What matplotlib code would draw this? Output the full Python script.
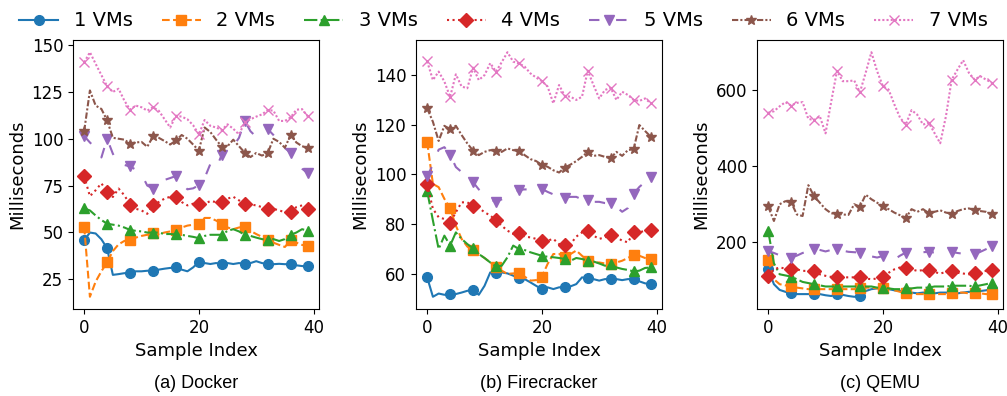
import matplotlib
matplotlib.use("Agg")
import matplotlib.pyplot as plt
import numpy as np

labels = ["1 VMs", "2 VMs", "3 VMs", "4 VMs", "5 VMs", "6 VMs", "7 VMs"]
panel_titles = ["(a) Docker", "(b) Firecracker", "(c) QEMU"]

# Docker
d1 = [45.8,49.9,49.4,46.3,41.5,27.3,27.7,28.2,28.2,29.2,29.2,29.5,29.5,30.1,30.6,31.0,31.3,30.1,29.2,31.3,
      34.2,33.6,33.1,33.6,33.1,33.6,33.1,33.6,33.1,33.6,34.6,33.6,33.1,33.0,33.2,33.0,33.1,32.4,32.0,31.9]
d2 = [53.0,15.6,23.7,29.2,34.0,40.0,43.6,45.4,46.0,47.2,48.1,48.7,49.7,49.1,49.9,50.5,51.0,52.6,53.6,54.1,
      54.7,57.7,57.7,56.3,54.7,52.6,51.7,52.6,53.0,50.8,49.1,47.6,45.8,44.5,43.3,42.2,45.8,44.5,43.3,42.7]
d3 = [62.8,61.7,59.0,56.6,54.6,54.1,53.6,52.6,51.3,50.8,50.5,49.9,49.9,49.9,49.1,49.1,48.9,48.7,48.1,47.6,
      46.9,48.1,48.7,48.7,48.7,50.8,51.7,50.5,48.7,48.1,47.2,46.4,45.8,46.4,45.4,46.4,48.7,49.9,51.7,50.8]
d4 = [80.0,69.3,72.5,76.2,71.6,68.9,73.4,69.8,64.8,62.6,61.7,59.9,64.6,66.2,68.0,69.0,69.1,66.2,64.4,65.3,
      65.1,65.3,66.7,66.2,66.0,68.0,69.0,67.1,65.1,64.9,64.4,63.5,62.6,62.6,61.7,60.8,60.8,63.5,64.4,62.6]
d5 = [101.4,98.0,95.0,90.0,100.0,92.0,86.5,86.0,85.2,83.5,81.0,75.0,73.4,76.0,78.0,79.0,80.1,76.0,73.0,73.5,
      75.2,79.0,86.5,84.0,91.5,93.0,96.0,100.5,109.5,104.0,101.0,102.3,105.2,102.0,98.0,95.0,92.5,88.0,84.0,81.5]
d6 = [104.1,125.8,117.7,115.9,109.8,100.5,100.0,99.5,97.4,98.0,98.3,95.7,101.2,100.5,98.8,96.9,99.1,102.0,100.0,96.9,
      93.7,106.0,103.6,99.5,95.7,96.0,99.5,96.0,92.6,90.2,92.4,91.0,92.3,100.0,98.3,95.2,102.0,98.0,96.0,95.1]
d7 = [140.8,146.2,140.0,134.0,128.0,125.0,126.7,120.4,115.5,117.7,116.8,115.0,116.8,115.0,110.5,106.0,112.3,111.8,110.4,107.2,
      102.3,110.0,106.9,106.0,104.7,107.7,105.3,102.3,108.7,110.4,111.8,113.0,115.3,115.0,109.5,109.5,111.4,115.5,115.8,111.9]

# Firecracker
f1 = [58.6,50.8,52.1,51.6,51.9,51.9,52.5,53.2,53.5,51.6,55.2,60.6,60.2,60.6,60.2,59.3,58.3,57.9,56.6,55.2,
      53.9,54.6,53.9,54.6,54.6,55.0,55.9,58.6,58.3,57.9,57.3,57.9,57.9,57.9,57.5,57.9,57.9,57.0,56.2,55.9]
f2 = [113.0,96.2,94.9,90.2,86.4,79.4,74.1,71.0,69.5,68.0,66.4,64.6,62.8,61.3,60.0,60.2,60.2,58.9,57.3,57.5,
      58.9,64.0,68.0,68.0,67.0,68.0,69.4,67.3,65.3,64.6,64.6,64.2,63.8,64.6,65.3,66.4,67.7,67.3,66.4,66.0]
f3 = [93.3,81.5,70.0,75.4,71.4,76.7,74.1,72.0,70.3,68.0,66.4,64.6,63.0,63.3,66.7,71.4,70.0,69.6,68.7,68.0,
      67.3,66.9,66.7,66.4,66.0,65.3,66.4,66.0,65.3,65.0,64.2,63.3,63.8,62.6,62.0,61.6,61.0,61.3,62.4,62.6]
f4 = [96.0,86.2,82.8,82.1,80.6,84.8,88.8,88.8,87.4,86.6,84.8,83.5,81.5,79.4,77.4,76.1,76.3,75.0,74.7,74.1,
      73.1,73.4,74.1,72.0,71.8,72.0,75.0,76.7,77.4,75.4,74.1,74.7,75.8,74.7,73.4,72.7,76.7,76.7,77.4,77.7]
f5 = [99.2,104.0,110.0,111.0,108.0,103.0,101.0,99.0,96.9,94.0,92.0,90.0,89.0,90.0,91.0,92.0,93.8,94.0,94.0,94.0,
      94.2,93.0,92.0,91.0,90.7,91.0,91.0,90.0,89.6,89.0,89.0,88.5,88.4,87.0,85.0,86.5,92.3,95.0,97.0,98.9]
f6 = [126.6,121.2,113.5,119.6,118.2,119.6,115.9,112.5,109.6,107.8,109.1,109.8,109.4,109.1,110.5,109.8,109.4,107.8,106.2,105.4,
      103.9,103.1,101.7,100.8,102.8,104.0,105.4,107.1,109.1,107.5,107.8,107.1,106.6,109.1,107.5,109.8,110.2,119.9,117.5,115.2]
f7 = [145.5,138.0,141.4,137.4,131.2,140.3,135.4,134.7,143.0,138.0,140.0,144.8,141.4,145.2,149.2,145.4,144.7,143.4,140.7,139.0,
      137.6,135.4,128.6,136.0,131.6,131.3,130.0,131.3,141.8,136.0,130.6,134.0,134.9,130.0,133.3,132.0,130.0,129.6,130.6,128.6]

# QEMU
q1 = [129,90,75,70,67,64,64,64,64,64,61,59,65,62,59,57,58,72,77,79,
      79,77,74,72,70,68,66,68,66,66,68,68,68,66,68,70,70,72,74,78]
q2 = [154,103,90,87,84,81,79,77,78,77,77,77,77,77,77,77,79,81,81,79,
      81,79,74,70,68,66,64,64,64,64,64,64,66,68,68,66,68,66,64,64]
q3 = [230,145,116,113,110,103,96,93,90,87,84,84,84,84,84,84,84,84,84,81,
      81,79,77,77,79,79,81,81,81,84,84,84,86,86,86,86,84,87,90,94]
q4 = [112,129,134,131,131,129,125,125,125,116,112,109,109,108,108,108,108,105,103,105,
      108,120,129,134,133,129,125,127,126,122,118,122,125,120,118,116,120,122,125,126]
q5 = [177,172,166,162,160,165,172,176,183,180,176,180,183,178,175,174,173,168,163,160,
      164,158,155,165,173,172,172,174,175,173,172,174,175,172,170,168,169,175,182,189]
q6 = [294,256,300,308,305,273,269,350,321,304,287,276,275,273,272,300,293,325,313,304,
      294,287,278,271,264,287,280,287,277,280,284,278,275,282,287,289,284,282,280,273]
q7 = [540,544,557,568,559,566,568,524,521,531,486,570,650,623,623,625,594,645,699,649,
      610,601,562,527,509,547,535,509,514,487,460,531,627,653,678,645,627,636,627,619]

panels = [[d1, d2, d3, d4, d5, d6, d7],
          [f1, f2, f3, f4, f5, f6, f7],
          [q1, q2, q3, q4, q5, q6, q7]]
yticks = [[25, 50, 75, 100, 125, 150], [60, 80, 100, 120, 140], [200, 400, 600]]

colors = ["C0", "C1", "C2", "C3", "C4", "C5", "C6"]
markers = ["o", "s", "^", "D", "v", "*", "x"]
styles = ["-", "--", "-.", ":", (0, (5, 8)), (0, (3, 1, 1, 1)), (0, (1, 1))]

plt.rcParams["font.family"] = ["DejaVu Sans"]
fig = plt.figure(figsize=(10.07, 3.96), dpi=100)
lefts = [73 / 1007, 416 / 1007, 757 / 1007]
W, H = 246 / 1007, 269 / 396
B = 1 - 309 / 396

handles = []
for k, series in enumerate(panels):
    ax = fig.add_axes([lefts[k], B, W, H])
    for j, vals in enumerate(series):
        x = np.arange(len(vals))
        mev = list(range(0, len(vals), 4)) + [len(vals) - 1]
        ln, = ax.plot(x, vals, color=colors[j], marker=markers[j], linestyle=styles[j],
                      linewidth=1.5, markersize=7, markevery=mev, label=labels[j])
        if k == 0:
            handles.append(ln)
    ax.set_xticks([0, 20, 40])
    ax.set_yticks(yticks[k])
    ax.tick_params(labelsize=12)
    ax.set_xlabel("Sample Index", fontsize=13)
    ax.set_ylabel("Milliseconds", fontsize=13)
    cx = lefts[k] + W / 2
    fig.text(cx, 1 - 384 / 396, panel_titles[k], ha="center", va="center",
             fontsize=13, family=["Liberation Sans", "DejaVu Sans"])

fig.legend(handles, labels, loc="center", bbox_to_anchor=(0.5, 1 - 21 / 396), ncol=7,
           frameon=False, fontsize=14, columnspacing=1.5, handlelength=2.0)

fig.savefig("out.png", dpi=100)
